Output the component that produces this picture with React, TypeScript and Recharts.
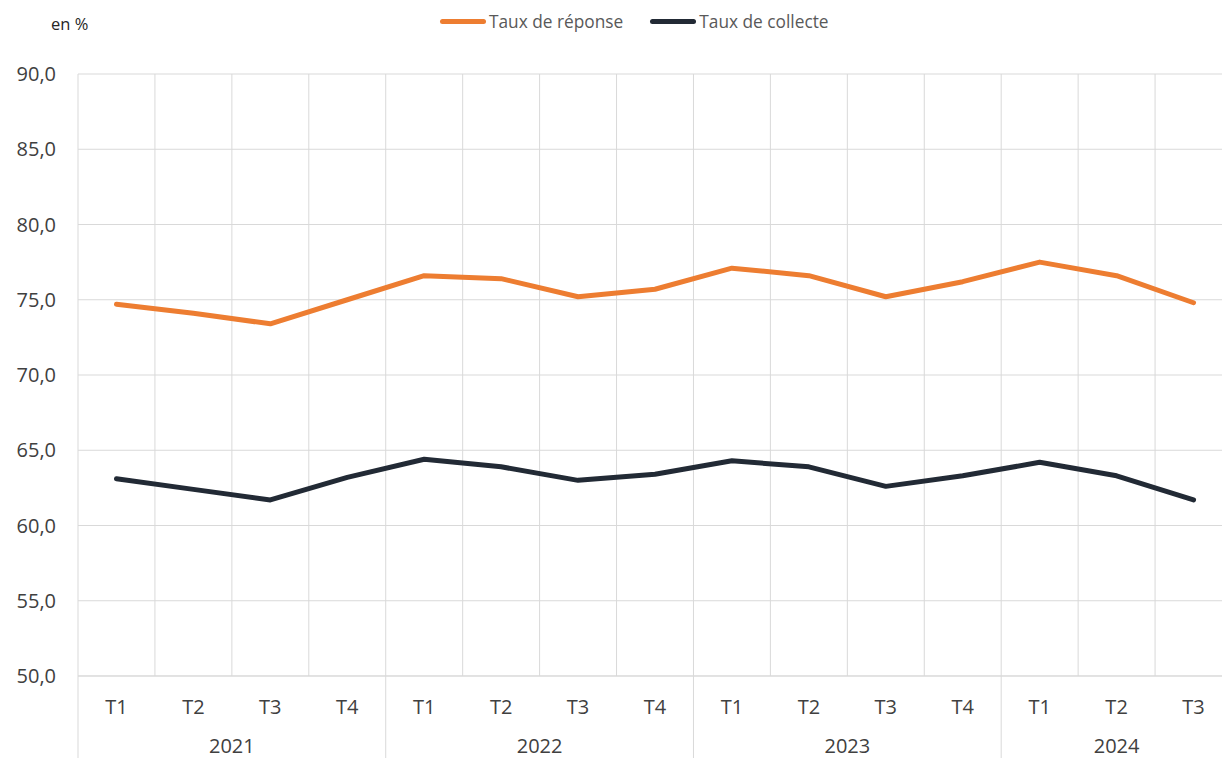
import { LineChart, Line, XAxis, YAxis, CartesianGrid, Legend } from 'recharts';

const quarters = ['T1', 'T2', 'T3', 'T4', 'T1', 'T2', 'T3', 'T4', 'T1', 'T2', 'T3', 'T4', 'T1', 'T2', 'T3'];
const years = ['2021', '2021', '2021', '2021', '2022', '2022', '2022', '2022', '2023', '2023', '2023', '2023', '2024', '2024', '2024'];
const tauxReponse = [74.7, 74.1, 73.4, 75.0, 76.6, 76.4, 75.2, 75.7, 77.1, 76.6, 75.2, 76.2, 77.5, 76.6, 74.8];
const tauxCollecte = [63.1, 62.4, 61.7, 63.2, 64.4, 63.9, 63.0, 63.4, 64.3, 63.9, 62.6, 63.3, 64.2, 63.3, 61.7];
const seriesNames = ['Taux de réponse', 'Taux de collecte'];
const yTicks = [50, 55, 60, 65, 70, 75, 80, 85, 90];

const data = quarters.map((q, i) => ({
  key: `${years[i]}-${q}`,
  q,
  year: years[i],
  reponse: tauxReponse[i],
  collecte: tauxCollecte[i]
}));

// the plot runs a little past the right edge of the picture, as in the source
const VIEW_WIDTH = 1222;
const WIDTH = 1232;
const HEIGHT = 758;
const PLOT_LEFT = 78;
const PLOT_TOP = 74;
const PLOT_BOTTOM = 676;
const BAND = (WIDTH - PLOT_LEFT) / quarters.length;
const GRID = '#D9D9D9';
const TICK = '#404040';
const TEXT = '#595959';
const FONT = '"Open Sans", sans-serif';

function QuarterTick(props: any) {
  const { x, index } = props;
  const year = years[index];
  const isFirst = index === 0 || years[index - 1] !== year;
  const count = years.filter((y) => y === year).length;
  return (
    <g>
      <text x={x} y={706} textAnchor="middle" dominantBaseline="central" fill={TICK} fontSize={20} fontFamily={FONT}>
        {quarters[index]}
      </text>
      {isFirst && (
        <>
          <line x1={x - BAND / 2} x2={x - BAND / 2} y1={PLOT_BOTTOM} y2={HEIGHT} stroke={GRID} strokeWidth={1} />
          <text x={x + ((count - 1) * BAND) / 2} y={745} textAnchor="middle" dominantBaseline="central" fill={TICK} fontSize={20} fontFamily={FONT}>
            {year}
          </text>
        </>
      )}
    </g>
  );
}

function LegendContent(props: any) {
  const items = [...(props.payload || [])].sort(
    (a: any, b: any) => seriesNames.indexOf(a.value) - seriesNames.indexOf(b.value)
  );
  return (
    <div style={{ display: 'flex', alignItems: 'center', fontFamily: FONT, fontSize: 17.3, color: TEXT }}>
      {items.map((item: any, i: number) => (
        <div key={i} style={{ display: 'flex', alignItems: 'center', marginRight: 27 }}>
          <span style={{ display: 'inline-block', width: 46, height: 5, borderRadius: 3, background: item.color, marginRight: 3 }} />
          <span>{item.value}</span>
        </div>
      ))}
    </div>
  );
}

export default function App() {
  return (
    <div style={{ position: 'absolute', left: 0, top: 0, width: VIEW_WIDTH, height: HEIGHT, background: '#fff', overflow: 'hidden' }}>
      <div style={{ position: 'absolute', left: 51, top: 12, fontFamily: FONT, fontSize: 16.5, color: '#262626' }}>en %</div>
      <LineChart width={WIDTH} height={HEIGHT} data={data} margin={{ top: PLOT_TOP, right: 0, bottom: 0, left: 0 }}>
        <CartesianGrid
          stroke={GRID}
          strokeWidth={1}
          verticalCoordinatesGenerator={({ offset }: any) =>
            quarters.map((_, i) => offset.left + i * (offset.width / quarters.length)).concat(offset.left + offset.width)
          }
        />
        <XAxis
          dataKey="key"
          height={HEIGHT - PLOT_BOTTOM}
          interval={0}
          padding={{ left: BAND / 2, right: BAND / 2 }}
          tickLine={false}
          axisLine={{ stroke: GRID }}
          tick={<QuarterTick />}
        />
        <YAxis
          domain={[50, 90]}
          ticks={yTicks}
          width={PLOT_LEFT}
          axisLine={false}
          tickLine={false}
          tickMargin={16}
          tickFormatter={(v: number) => v.toFixed(1).replace('.', ',')}
          tick={{ fill: TICK, fontSize: 20, fontFamily: FONT }}
        />
        <Legend
          verticalAlign="middle"
          align="center"
          content={<LegendContent />}
          wrapperStyle={{ top: 10, left: 440, width: 600 }}
        />
        <Line
          name={seriesNames[0]}
          dataKey="reponse"
          stroke="#ED7D31"
          strokeWidth={5}
          strokeLinecap="round"
          strokeLinejoin="round"
          dot={false}
          isAnimationActive={false}
        />
        <Line
          name={seriesNames[1]}
          dataKey="collecte"
          stroke="#222A35"
          strokeWidth={5}
          strokeLinecap="round"
          strokeLinejoin="round"
          dot={false}
          isAnimationActive={false}
        />
      </LineChart>
    </div>
  );
}
